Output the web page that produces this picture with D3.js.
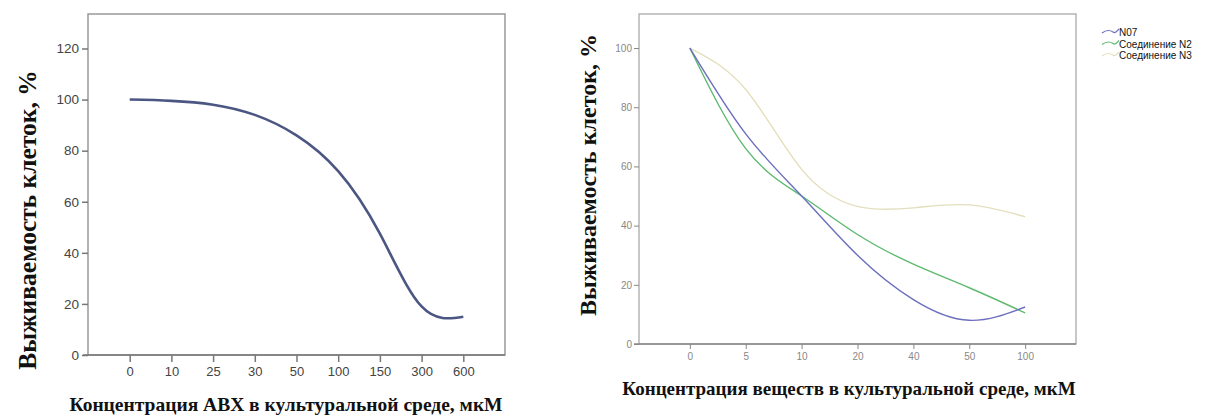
<!DOCTYPE html>
<html>
<head>
<meta charset="utf-8">
<script src="https://cdn.jsdelivr.net/npm/d3@7"></script>
<style>
  body { margin: 0; background: #fff; }
  svg { display: block; }
  .tick text { font-family: Arial, "Liberation Sans", sans-serif; }
  .title { font-family: "Times New Roman", "Liberation Serif", serif; font-weight: bold; fill: #111; }
</style>
</head>
<body>
<svg id="viz"></svg>
<script>
// chart size matches the window
const width = 1211, height = 418;

// left panel: ABX
const abxDoses = ["0", "10", "25", "30", "50", "100", "150", "300", "600"];
const abxSurvival = [100, 99.5, 98, 94, 86, 72, 47.5, 19, 15];
const abxYTicks = [0, 20, 40, 60, 80, 100, 120];

// right panel: three compounds
const cmpDoses = ["0", "5", "10", "20", "40", "50", "100"];
const seriesNames = ["N07", "Соединение N2", "Соединение N3"];
const n07 = [100, 71, 50, 30, 15, 8, 12.5];
const n2 = [100, 66, 50, 37, 27, 19, 10.5];
const n3 = [100, 86, 59, 46.5, 46, 47, 43];
const cmpYTicks = [0, 20, 40, 60, 80, 100];

const svg = d3.select("#viz").attr("width", width).attr("height", height);

//----- left chart -----
const L = { x0: 88, x1: 505, y0: 14, y1: 355 };
const xL = d3.scalePoint().domain(abxDoses).range([L.x0, L.x1]).padding(1);
const yL = d3.scaleLinear().domain([0, 133.5]).range([L.y1, L.y0]);

const left = svg.append("g");

// frame
left.append("rect")
  .attr("x", L.x0).attr("y", L.y0)
  .attr("width", L.x1 - L.x0).attr("height", L.y1 - L.y0)
  .attr("fill", "none").attr("stroke", "#999").attr("stroke-width", 1.5);

const yAxL = left.append("g")
  .attr("transform", "translate(" + L.x0 + ",0)")
  .call(d3.axisLeft(yL).tickValues(abxYTicks).tickSize(6).tickPadding(3));
yAxL.select(".domain").remove();
yAxL.selectAll("line").attr("stroke", "#777").attr("stroke-width", 1.5);
yAxL.selectAll("text").attr("font-size", 13.5).attr("fill", "#444");

const xAxL = left.append("g")
  .attr("transform", "translate(0," + L.y1 + ")")
  .call(d3.axisBottom(xL).tickSize(7).tickPadding(5));
xAxL.select(".domain").attr("d", "M" + (L.x0 - 5) + ",0H" + L.x1).attr("stroke", "#777").attr("stroke-width", 1.5);
xAxL.selectAll("line").attr("stroke", "#777").attr("stroke-width", 1.5);
xAxL.selectAll("text").attr("font-size", 13).attr("fill", "#444");

left.append("path")
  .datum(abxSurvival)
  .attr("fill", "none")
  .attr("stroke", "#4b5782")
  .attr("stroke-width", 2.6)
  .attr("d", d3.line()
    .x((d, i) => xL(abxDoses[i]))
    .y(d => yL(d))
    .curve(d3.curveNatural));

left.append("text")
  .attr("class", "title")
  .attr("transform", "translate(36,220) rotate(-90)")
  .attr("text-anchor", "middle")
  .attr("font-size", 25.5)
  .text("Выживаемость клеток, %");

left.append("text")
  .attr("class", "title")
  .attr("x", 286).attr("y", 411)
  .attr("text-anchor", "middle")
  .attr("font-size", 19.5)
  .text("Концентрация ABX в культуральной среде, мкМ");

//----- right chart -----
const R = { x0: 639, x1: 1076, y0: 14, y1: 344 };
const xR = d3.scalePoint().domain(cmpDoses).range([R.x0, R.x1]).padding(0.91);
const yR = d3.scaleLinear().domain([0, 111.5]).range([R.y1, R.y0]);
const color = d3.scaleOrdinal().domain(seriesNames).range(["#6b6fbd", "#5dba6f", "#e3dfbd"]);

const right = svg.append("g");

right.append("rect")
  .attr("x", R.x0).attr("y", R.y0)
  .attr("width", R.x1 - R.x0).attr("height", R.y1 - R.y0)
  .attr("fill", "none").attr("stroke", "#aaa").attr("stroke-width", 1.3);

const yAxR = right.append("g")
  .attr("transform", "translate(" + R.x0 + ",0)")
  .call(d3.axisLeft(yR).tickValues(cmpYTicks).tickSize(5).tickPadding(2));
yAxR.select(".domain").remove();
yAxR.selectAll("line").attr("stroke", "#888");
yAxR.selectAll("text").attr("font-size", 10).attr("fill", "#888");

const xAxR = right.append("g")
  .attr("transform", "translate(0," + R.y1 + ")")
  .call(d3.axisBottom(xR).tickSize(5).tickPadding(4));
xAxR.select(".domain").attr("d", "M" + (R.x0 - 5) + ",0H" + R.x1).attr("stroke", "#888").attr("stroke-width", 1.3);
xAxR.selectAll("line").attr("stroke", "#888");
xAxR.selectAll("text").attr("font-size", 10).attr("fill", "#888");

const series = [
  { name: seriesNames[0], values: n07 },
  { name: seriesNames[1], values: n2 },
  { name: seriesNames[2], values: n3 }
];

const lineR = d3.line()
  .x((d, i) => xR(cmpDoses[i]))
  .y(d => yR(d))
  .curve(d3.curveNatural);

// draw beige first so blue and green stay on top
right.selectAll(".series")
  .data(series.slice().reverse())
  .enter()
  .append("path")
  .attr("class", "series")
  .attr("fill", "none")
  .attr("stroke", d => color(d.name))
  .attr("stroke-width", 1.4)
  .attr("d", d => lineR(d.values));

right.append("text")
  .attr("class", "title")
  .attr("transform", "translate(596,175) rotate(-90)")
  .attr("text-anchor", "middle")
  .attr("font-size", 24)
  .text("Выживаемость клеток, %");

right.append("text")
  .attr("class", "title")
  .attr("x", 849).attr("y", 395)
  .attr("text-anchor", "middle")
  .attr("font-size", 19)
  .text("Концентрация веществ в культуральной среде, мкМ");

// legend
const legend = right.append("g").attr("transform", "translate(1102,32)");
const item = legend.selectAll("g")
  .data(seriesNames)
  .enter()
  .append("g")
  .attr("transform", (d, i) => "translate(0," + i * 11.5 + ")");
item.append("path")
  .attr("d", "M0,1 C4,-2 8,-2 11,0 S15,-1 17,-3")
  .attr("fill", "none")
  .attr("stroke", d => color(d))
  .attr("stroke-width", 1.2);
item.append("text")
  .attr("x", 17).attr("y", 4)
  .attr("font-family", "Arial, 'Liberation Sans', sans-serif")
  .attr("font-size", 10)
  .attr("fill", "#111")
  .text(d => d);
</script>
</body>
</html>
